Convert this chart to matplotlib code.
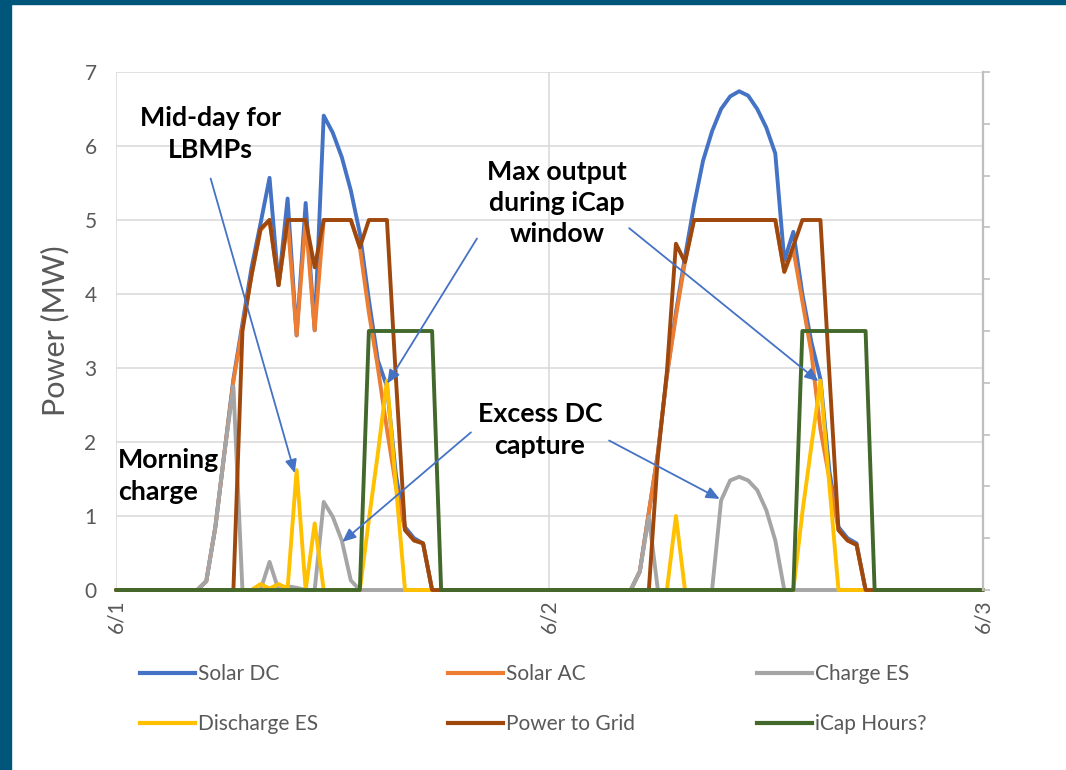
import matplotlib
matplotlib.use("Agg")
import matplotlib.pyplot as plt
from matplotlib.patches import Rectangle
import numpy as np

plt.rcParams['font.family'] = ['Lato', 'DejaVu Sans']

# Half-hourly steps from 6/1 00:00 to 6/3 00:00 (97 points)
day_ticks = [0, 48, 96]
day_labels = ['6/1', '6/2', '6/3']

solar_dc = [
    0, 0, 0, 0, 0, 0, 0, 0, 0, 0, 0.12, 0.85,
    1.85, 2.85, 3.60, 4.35, 4.95, 5.57, 4.12, 5.29, 3.44, 5.23, 3.51, 6.41,
    6.18, 5.85, 5.40, 4.82, 3.92, 3.10, 2.75, 1.55, 0.85, 0.70, 0.63, 0,
    0, 0, 0, 0, 0, 0, 0, 0, 0, 0, 0, 0,
    0, 0, 0, 0, 0, 0, 0, 0, 0, 0, 0.25, 1.05,
    1.85, 2.90, 3.75, 4.50, 5.20, 5.80, 6.20, 6.50, 6.67, 6.74, 6.68, 6.50,
    6.25, 5.90, 4.45, 4.84, 4.00, 3.35, 2.85, 1.60, 0.85, 0.70, 0.63, 0,
    0, 0, 0, 0, 0, 0, 0, 0, 0, 0, 0, 0,
    0,
]

solar_ac = [
    0, 0, 0, 0, 0, 0, 0, 0, 0, 0, 0.12, 0.85,
    1.85, 2.82, 3.55, 4.25, 4.86, 5.00, 4.12, 5.00, 3.44, 5.00, 3.51, 5.00,
    5.00, 5.00, 5.00, 4.63, 3.75, 3.00, 2.17, 1.40, 0.81, 0.67, 0.63, 0,
    0, 0, 0, 0, 0, 0, 0, 0, 0, 0, 0, 0,
    0, 0, 0, 0, 0, 0, 0, 0, 0, 0, 0.25, 1.05,
    1.85, 2.90, 3.70, 4.43, 5.00, 5.00, 5.00, 5.00, 5.00, 5.00, 5.00, 5.00,
    5.00, 5.00, 4.30, 4.60, 3.90, 3.20, 2.17, 1.50, 0.81, 0.67, 0.61, 0,
    0, 0, 0, 0, 0, 0, 0, 0, 0, 0, 0, 0,
    0,
]

charge_es = [
    0, 0, 0, 0, 0, 0, 0, 0, 0, 0, 0.12, 0.85,
    1.85, 2.75, 0, 0, 0, 0.38, 0, 0.05, 0.03, 0, 0, 1.19,
    0.99, 0.67, 0.13, 0, 0, 0, 0, 0, 0, 0, 0, 0,
    0, 0, 0, 0, 0, 0, 0, 0, 0, 0, 0, 0,
    0, 0, 0, 0, 0, 0, 0, 0, 0, 0, 0.25, 0.99,
    0, 0, 0, 0, 0, 0, 0, 1.21, 1.48, 1.53, 1.48, 1.35,
    1.08, 0.67, 0, 0, 0, 0, 0, 0, 0, 0, 0, 0,
    0, 0, 0, 0, 0, 0, 0, 0, 0, 0, 0, 0,
    0,
]

discharge_es = [
    0, 0, 0, 0, 0, 0, 0, 0, 0, 0, 0, 0,
    0, 0, 0, 0, 0.08, 0.02, 0.08, 0.02, 1.62, 0, 0.90, 0,
    0, 0, 0, 0, 0.95, 1.85, 2.83, 1.40, 0, 0, 0, 0,
    0, 0, 0, 0, 0, 0, 0, 0, 0, 0, 0, 0,
    0, 0, 0, 0, 0, 0, 0, 0, 0, 0, 0, 0,
    0, 0, 1.00, 0, 0, 0, 0, 0, 0, 0, 0, 0,
    0, 0, 0, 0, 1.05, 1.95, 2.83, 1.40, 0, 0, 0, 0,
    0, 0, 0, 0, 0, 0, 0, 0, 0, 0, 0, 0,
    0,
]

power_to_grid = [
    0, 0, 0, 0, 0, 0, 0, 0, 0, 0, 0, 0,
    0, 0, 3.50, 4.25, 4.88, 5.00, 4.12, 5.00, 5.00, 5.00, 4.36, 5.00,
    5.00, 5.00, 5.00, 4.63, 5.00, 5.00, 5.00, 2.85, 0.81, 0.67, 0.63, 0,
    0, 0, 0, 0, 0, 0, 0, 0, 0, 0, 0, 0,
    0, 0, 0, 0, 0, 0, 0, 0, 0, 0, 0, 0,
    1.80, 2.95, 4.68, 4.43, 5.00, 5.00, 5.00, 5.00, 5.00, 5.00, 5.00, 5.00,
    5.00, 5.00, 4.30, 4.65, 5.00, 5.00, 5.00, 2.90, 0.81, 0.67, 0.61, 0,
    0, 0, 0, 0, 0, 0, 0, 0, 0, 0, 0, 0,
    0,
]

icap_hours = [
    0, 0, 0, 0, 0, 0, 0, 0, 0, 0, 0, 0,
    0, 0, 0, 0, 0, 0, 0, 0, 0, 0, 0, 0,
    0, 0, 0, 0, 3.5, 3.5, 3.5, 3.5, 3.5, 3.5, 3.5, 3.5,
    0, 0, 0, 0, 0, 0, 0, 0, 0, 0, 0, 0,
    0, 0, 0, 0, 0, 0, 0, 0, 0, 0, 0, 0,
    0, 0, 0, 0, 0, 0, 0, 0, 0, 0, 0, 0,
    0, 0, 0, 0, 3.5, 3.5, 3.5, 3.5, 3.5, 3.5, 3.5, 3.5,
    0, 0, 0, 0, 0, 0, 0, 0, 0, 0, 0, 0,
    0,
]

series = [
    ('Solar DC', solar_dc, '#4472C4'),
    ('Solar AC', solar_ac, '#ED7D31'),
    ('Charge ES', charge_es, '#A5A5A5'),
    ('Discharge ES', discharge_es, '#FFC000'),
    ('Power to Grid', power_to_grid, '#9E480E'),
    ('iCap Hours?', icap_hours, '#43682B'),
]

W, H = 1066, 770
fig = plt.figure(figsize=(W / 100, H / 100), dpi=100)
fig.patch.set_facecolor('white')

# frame accents along the left and top edge
fig.add_artist(Rectangle((0, 0), 11 / W, 1, transform=fig.transFigure,
                         color='#00557A', zorder=0))
fig.add_artist(Rectangle((0, 1 - 4 / H), 1, 4 / H, transform=fig.transFigure,
                         color='#00557A', zorder=0))

ax = fig.add_axes([116 / W, 1 - 590 / H, (983 - 116) / W, (590 - 72) / H])
x = np.arange(len(solar_dc))

for name, vals, color in series:
    ax.plot(x, vals, color=color, lw=2.8, label=name, clip_on=False,
            solid_joinstyle='round', solid_capstyle='round')

ax.set_xlim(0, 96)
ax.set_ylim(0, 7)
ax.set_yticks(range(8))
ax.set_xticks(day_ticks)
ax.set_xticklabels(day_labels, rotation=90)
ax.grid(True, color='#D9D9D9', lw=1.1)
ax.set_axisbelow(True)
for s in ax.spines.values():
    s.set_visible(False)
ax.tick_params(axis='y', length=0, pad=14, labelsize=15, labelcolor='#595959')
ax.tick_params(axis='x', length=0, pad=7, labelsize=15, labelcolor='#595959')
ax.set_ylabel('Power (MW)', fontsize=22, color='#595959', labelpad=11)

# secondary axis on the right: tick marks only
ax2 = ax.twinx()
ax2.set_ylim(0, 1)
ax2.set_yticks(np.linspace(0, 1, 11))
ax2.tick_params(axis='y', length=5, width=1.2, color='#BFBFBF',
                labelright=False)
for k, s in ax2.spines.items():
    s.set_visible(k == 'right')
ax2.spines['right'].set_color('#BFBFBF')
ax2.spines['right'].set_linewidth(1.6)

# annotations
ann_kw = dict(fontsize=19.3, fontweight='bold', color='black', linespacing=1.36)
arrow_kw = dict(arrowstyle='-|>,head_length=0.8,head_width=0.35',
                color='#4472C4', lw=1.3, shrinkA=0, shrinkB=0)


def fig_xy(px, py):
    return px / W, 1 - py / H


fig.text(*fig_xy(210, 134), 'Mid-day for\nLBMPs', ha='center', va='center',
         multialignment='center', **ann_kw)
fig.text(*fig_xy(557, 203), 'Max output\nduring iCap\nwindow', ha='center',
         va='center', multialignment='center', **ann_kw)
fig.text(*fig_xy(540, 430), 'Excess DC\ncapture', ha='center', va='center',
         multialignment='center', **ann_kw)
fig.text(*fig_xy(118, 476), 'Morning\ncharge', ha='left', va='center',
         multialignment='left', **ann_kw)

arrows = [
    ((10.48, 5.56), (19.79, 1.58)),
    ((39.97, 4.75), (30.04, 2.79)),
    ((56.82, 4.89), (77.77, 2.82)),
    ((39.30, 2.13), (25.06, 0.65)),
    ((54.60, 2.02), (66.85, 1.23)),
]
for tail, tip in arrows:
    ax.annotate('', xy=tip, xytext=tail, xycoords='data', textcoords='data',
                arrowprops=arrow_kw, annotation_clip=False)

# legend: three columns, each a two-row block, filled row by row
col_left_px = [140, 448, 757]
for c, left in enumerate(col_left_px):
    entries = [series[c], series[c + 3]]
    handles = [plt.Line2D([], [], color=col, lw=3.0) for _, _, col in entries]
    fig.legend(handles, [n for n, _, _ in entries], ncol=1,
               loc='upper left', bbox_to_anchor=(left / W, 1 - 664 / H),
               frameon=False, fontsize=15, handlelength=2.65,
               handletextpad=0.15, labelspacing=1.45, borderpad=0,
               borderaxespad=0, labelcolor='#595959')

fig.savefig('out.png', dpi=100, facecolor='white')
